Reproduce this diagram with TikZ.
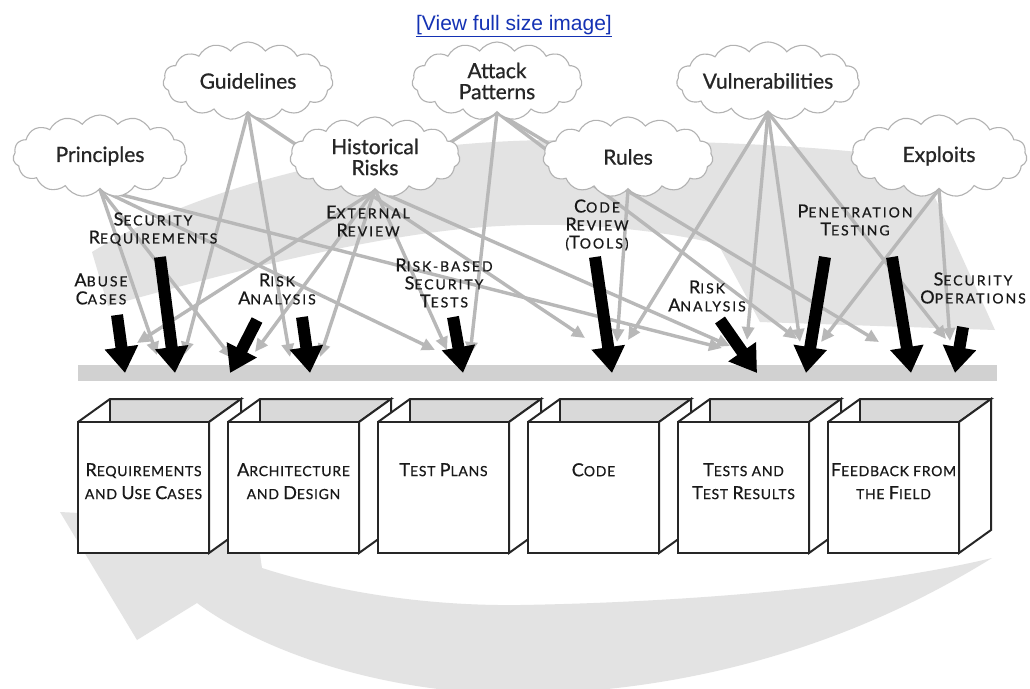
\documentclass[tikz,border=0pt]{standalone}
\usepackage{fontspec}
\setmainfont{Lato}
\newfontfamily\linkfont{Liberation Sans}
\newfontfamily\cloudfont[FakeBold=0.8]{Lato}
\newfontfamily\tpfont[LetterSpace=14,FakeBold=0.6]{Lato}
\newfontfamily\stfont[LetterSpace=5,FakeBold=0.6]{Lato}
\usetikzlibrary{shapes.symbols,arrows.meta}

\definecolor{linkblue}{RGB}{20,50,180}

% fake small caps: a large initial followed by smaller capitals
\newcommand\tpw[2]{{\fontsize{18}{18}\selectfont #1}{\fontsize{14}{18}\selectfont #2}}
\newcommand\tps[1]{{\fontsize{14}{18}\selectfont #1}}
\newcommand\stw[2]{{\fontsize{18}{23}\selectfont #1}{\fontsize{14}{23}\selectfont #2}}
\newcommand\sts[1]{{\fontsize{14}{23}\selectfont #1}}

% one open box of a lifecycle stage: #1 left edge, #2 node name, #3 caption
\newcommand\stagebox[3]{%
  \fill[boxin] (#1+32,399) -- (#1+163,399) -- (#1+131,422) -- (#1+32,422) -- cycle;
  \fill[white] (#1,422) -- (#1+32,399) -- (#1+32,422) -- cycle;
  \draw[boxline] (#1,422) -- (#1+32,399) -- (#1+163,399) -- (#1+131,422);
  \draw[boxline] (#1+32,399) -- (#1+32,422);
  \filldraw[boxline,fill=white] (#1+131,422) -- (#1+163,399) -- (#1+163,530) -- (#1+131,553) -- cycle;
  \filldraw[boxline,fill=white] (#1,422) rectangle (#1+131,553);
  \node[boxtext] (#2) at (#1+65.5,463) {#3};
}

\begin{document}
\begin{tikzpicture}[x=1pt,y=-1pt,
  band/.style={fill=black!11},
  barfill/.style={fill=black!18},
  knowledge/.style={cloud, cloud puffs=15, cloud puff arc=110, cloud ignores aspect,
    minimum width=170pt, minimum height=78pt, inner sep=0pt,
    draw=black!30, line width=1.1pt, fill=white, text=black!85, align=center,
    font=\cloudfont\fontsize{21}{21}\selectfont},
  anchorcloud/.style={knowledge, draw=none, fill=none},
  gl/.style={draw=black!28, line width=3.4pt, shorten <=-14pt,
    -{Triangle[length=13pt,width=12pt]}},
  bk/.style={draw=black, line width=12pt, -{Triangle[length=26pt,width=32pt]}},
  tplabel/.style={align=center, inner sep=0pt, text=black!90,
    font=\tpfont\fontsize{14}{18}\selectfont},
  boxin/.style={fill=black!15},
  boxline/.style={draw=black!85, line width=2pt, line join=miter},
  boxtext/.style={anchor=north, align=center, inner sep=0pt, text=black!90,
    font=\stfont\fontsize{14}{23}\selectfont}
]
\useasboundingbox (0,0) rectangle (1030,688);
\clip (0,0) rectangle (1030,688);
\fill[white] (0,0) rectangle (1030,688);

% the large circular lifecycle arrow in the background
\fill[band] (92,252) .. controls (200,185) and (380,140) .. (560,140)
  .. controls (720,140) and (850,148) .. (918,160)
  -- (995,330) -- (760,322) -- (718,244)
  .. controls (650,228) and (570,222) .. (500,226)
  .. controls (380,232) and (220,275) .. (108,306) -- cycle;
\fill[band] (992,558) .. controls (860,640) and (700,692) .. (520,694)
  .. controls (380,694) and (260,650) .. (197,603)
  -- (137,640) -- (60,512) -- (255,522) -- (262,568)
  .. controls (350,596) and (440,606) .. (520,605)
  .. controls (700,602) and (880,585) .. (992,558) -- cycle;

% outlines of the knowledge clouds, placed first so the connectors can start there
\node[anchorcloud] (G) at (248,81) {};
\node[anchorcloud] (A) at (497,81) {};
\node[anchorcloud] (V) at (768,81) {};
\node[anchorcloud, minimum width=174pt, minimum height=82pt] (P) at (100,156) {};
\node[anchorcloud, minimum height=80pt] (H) at (375,157) {};
\node[anchorcloud, minimum height=80pt] (R) at (628,157) {};
\node[anchorcloud, minimum width=176pt, minimum height=82pt] (E) at (939,156) {};

% gray knowledge connectors
\foreach \s/\n/\x/\y in {P/1/157/355, P/2/232/358, P/3/435/350, P/4/722/348,
    G/5/184/355, G/6/290/357, G/7/585/338,
    H/8/255/352, H/9/320/357, H/10/447/350, H/11/730/346,
    A/12/137/343, A/13/470/355, A/14/797/339, A/15/879/342,
    R/16/617/342,
    V/17/628/340, V/18/747/340, V/19/800/342, V/20/946/339,
    E/21/821/342, E/22/950/341}
  {\coordinate (g\n) at (\x,\y);
   \draw[gl] (\s.south) -- (g\n);}

% the clouds themselves
\node[knowledge] (Gk) at (G) {Guidelines};
\node[knowledge] (Ak) at (A) {Attack\\Patterns};
\node[knowledge] (Vk) at (V) {Vulnerabilities};
\node[knowledge, minimum width=174pt, minimum height=82pt] (Pk) at (P) {Principles};
\node[knowledge, minimum height=80pt] (Hk) at (H) {Historical\\Risks};
\node[knowledge, minimum height=80pt] (Rk) at (R) {Rules};
\node[knowledge, minimum width=176pt, minimum height=82pt] (Ek) at (E) {Exploits};

% link above the figure
\node[font=\linkfont\fontsize{21}{22}\selectfont, text=linkblue] (link) at (514,26)
  {\underline{[View full size image]}};

% the artifact bar
\fill[barfill] (78,365) rectangle (997,381);

% touchpoint arrows
\foreach \n/\xa/\ya/\xb/\yb in {1/117/315/125/373, 2/160/257/175/373,
    3/257/320/230/373, 4/302/317/310/373, 5/453/317/463/373,
    6/595/257/612/373, 7/720/320/757/373, 8/825/257/806/373,
    9/892/257/911/373, 10/963/327/955/373}
  {\coordinate (k\n s) at (\xa,\ya);
   \coordinate (k\n e) at (\xb,\yb);
   \draw[bk] (k\n s) -- (k\n e);}

% touchpoint labels
\node[tplabel] (secreq) at (153,229) {\tpw{S}{ECURITY}\\\tpw{R}{EQUIREMENTS}};
\node[tplabel] (abuse) at (101,289) {\tpw{A}{BUSE}\\\tpw{C}{ASES}};
\node[tplabel] (riska) at (277,289) {\tpw{R}{ISK}\\\tpw{A}{NALYSIS}};
\node[tplabel] (extrev) at (368,221) {\tpw{E}{XTERNAL}\\\tpw{R}{EVIEW}};
\node[tplabel] (rbst) at (444,283) {\tpw{R}{ISK-BASED}\\\tpw{S}{ECURITY}\\\tpw{T}{ESTS}};
\node[tplabel] (coderev) at (597,225) {\tpw{C}{ODE}\\\tpw{R}{EVIEW}\\\tps{(}\tpw{T}{OOLS)}};
\node[tplabel] (riskb) at (707,296) {\tpw{R}{ISK}\\\tpw{A}{NALYSIS}};
\node[tplabel] (pentest) at (855,220) {\tpw{P}{ENETRATION}\\\tpw{T}{ESTING}};
\node[tplabel] (secops) at (973,288) {\tpw{S}{ECURITY}\\\tpw{O}{PERATIONS}};

% lifecycle stages
\stagebox{78}{req}{\stw{R}{EQUIREMENTS}\\\sts{AND} \stw{U}{SE} \stw{C}{ASES}}
\stagebox{228}{arch}{\stw{A}{RCHITECTURE}\\\sts{AND} \stw{D}{ESIGN}}
\stagebox{378}{plans}{\stw{T}{EST} \stw{P}{LANS}}
\stagebox{528}{code}{\stw{C}{ODE}}
\stagebox{678}{tests}{\stw{T}{ESTS} \sts{AND}\\\stw{T}{EST} \stw{R}{ESULTS}}
\stagebox{828}{field}{\stw{F}{EEDBACK} \sts{FROM}\\\sts{THE} \stw{F}{IELD}}
\end{tikzpicture}
\end{document}
